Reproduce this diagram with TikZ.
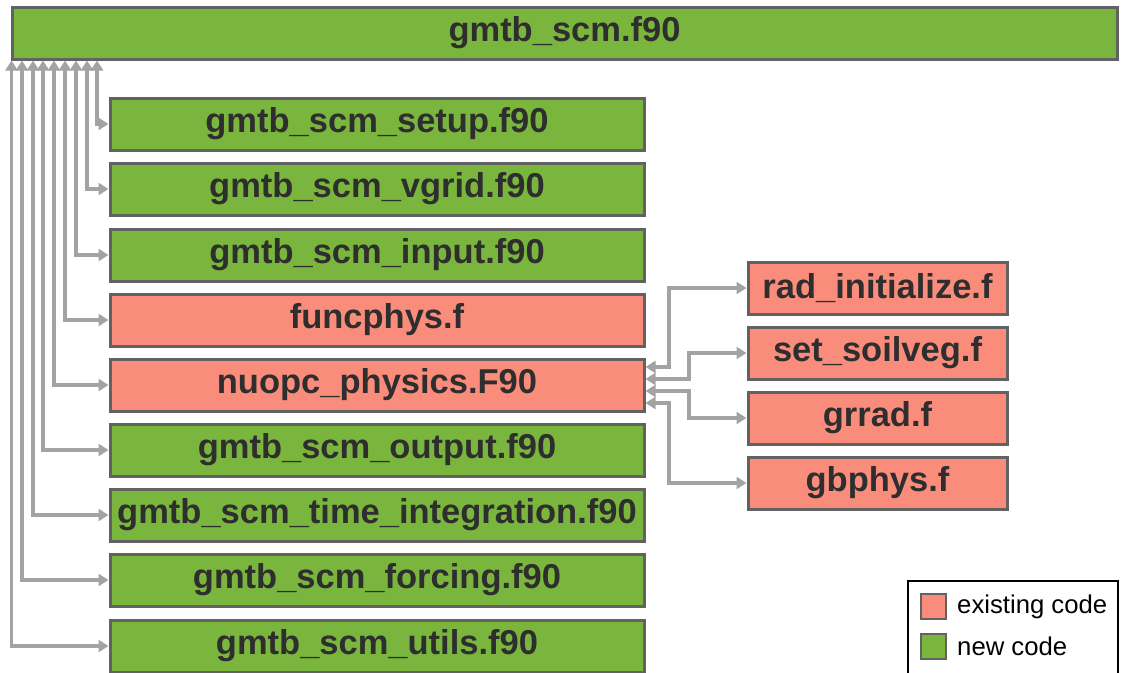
\documentclass[tikz,border=0pt]{standalone}
\usepackage{fontspec}
\setmainfont{Liberation Sans}
\usetikzlibrary{arrows.meta,calc}
\definecolor{newg}{HTML}{7AB63D}
\definecolor{oldr}{HTML}{FA8C7C}
\definecolor{bord}{HTML}{626262}
\definecolor{conng}{HTML}{A3A3A3}
\definecolor{txt}{HTML}{2E2E2E}
\tikzset{
  filebox/.style={draw=bord,line width=3pt,minimum height=52pt,inner sep=0pt,
    text=txt,font=\fontsize{34.5}{40}\selectfont\bfseries},
  newbox/.style={filebox,fill=newg},
  oldbox/.style={filebox,fill=oldr},
  leftbox/.style={minimum width=534pt},
  rightbox/.style={minimum width=259pt},
  conn/.style={draw=conng,line width=3.5pt,{Triangle[length=10pt,width=12pt]}-{Triangle[length=10pt,width=12pt]}},
  legsw/.style={draw=bord,line width=2.5pt,minimum width=25pt,minimum height=25pt,inner sep=0pt},
  legtxt/.style={anchor=west,inner sep=0pt,font=\fontsize{25.7}{30}\selectfont}
}
\begin{document}
\begin{tikzpicture}[x=1pt,y=-1pt]
\useasboundingbox (0,0) rectangle (1124,672);
\node[newbox,minimum width=1105pt] (top) at (564.5,33) {gmtb\_scm.f90};
\node[newbox,leftbox] (setup) at (377,124) {gmtb\_scm\_setup.f90};
\node[newbox,leftbox] (vgrid) at (377,189) {gmtb\_scm\_vgrid.f90};
\node[newbox,leftbox] (input) at (377,255) {gmtb\_scm\_input.f90};
\node[oldbox,leftbox] (funcphys) at (377,320) {funcphys.f};
\node[oldbox,leftbox] (nuopc) at (377,385) {nuopc\_physics.F90};
\node[newbox,leftbox] (output) at (377,450) {gmtb\_scm\_output.f90};
\node[newbox,leftbox] (timeint) at (377,515) {gmtb\_scm\_time\_integration.f90};
\node[newbox,leftbox] (forcing) at (377,580) {gmtb\_scm\_forcing.f90};
\node[newbox,leftbox] (utils) at (377,646) {gmtb\_scm\_utils.f90};
\node[oldbox,rightbox] (radinit) at (877.5,288) {rad\_initialize.f};
\node[oldbox,rightbox] (soilveg) at (877.5,353) {set\_soilveg.f};
\node[oldbox,rightbox] (grrad) at (877.5,418) {grrad.f};
\node[oldbox,rightbox] (gbphys) at (877.5,483) {gbphys.f};
% vertical trunk positions
\coordinate (v1) at (97,0);
\coordinate (v2) at (87,0);
\coordinate (v3) at (76,0);
\coordinate (v4) at (65,0);
\coordinate (v5) at (54,0);
\coordinate (v6) at (43,0);
\coordinate (v7) at (33,0);
\coordinate (v8) at (22,0);
\coordinate (v9) at (11.5,0);
\draw[conn] (setup.west) -| (v1 |- top.south);
\draw[conn] (vgrid.west) -| (v2 |- top.south);
\draw[conn] (input.west) -| (v3 |- top.south);
\draw[conn] (funcphys.west) -| (v4 |- top.south);
\draw[conn] (nuopc.west) -| (v5 |- top.south);
\draw[conn] (output.west) -| (v6 |- top.south);
\draw[conn] (timeint.west) -| (v7 |- top.south);
\draw[conn] (forcing.west) -| (v8 |- top.south);
\draw[conn] (utils.west) -| (v9 |- top.south);
% right side connectors
\coordinate (c1) at (669,0);
\coordinate (c2) at (689,0);
\coordinate (p1) at ($(nuopc.east)+(0,-18)$);
\coordinate (p2) at ($(nuopc.east)+(0,-6)$);
\coordinate (p3) at ($(nuopc.east)+(0,6)$);
\coordinate (p4) at ($(nuopc.east)+(0,18)$);
\draw[conn] (radinit.west) -- (radinit.west -| c1) -- (c1 |- p1) -- (p1);
\draw[conn] (soilveg.west) -- (soilveg.west -| c2) -- (c2 |- p2) -- (p2);
\draw[conn] (grrad.west) -- (grrad.west -| c2) -- (c2 |- p3) -- (p3);
\draw[conn] (gbphys.west) -- (gbphys.west -| c1) -- (c1 |- p4) -- (p4);
% legend
\draw[black,line width=1.5pt] (908,676) -- (908,581) -- (1118,581) -- (1118,676);
\node[legsw,fill=oldr] (lgold) at (933.5,606.5) {};
\node[legsw,fill=newg] (lgnew) at (933.5,646.5) {};
\node[legtxt] (lgoldt) at (957,607) {existing code};
\node[legtxt] (lgnewt) at (957,646) {new code};
\end{tikzpicture}
\end{document}
